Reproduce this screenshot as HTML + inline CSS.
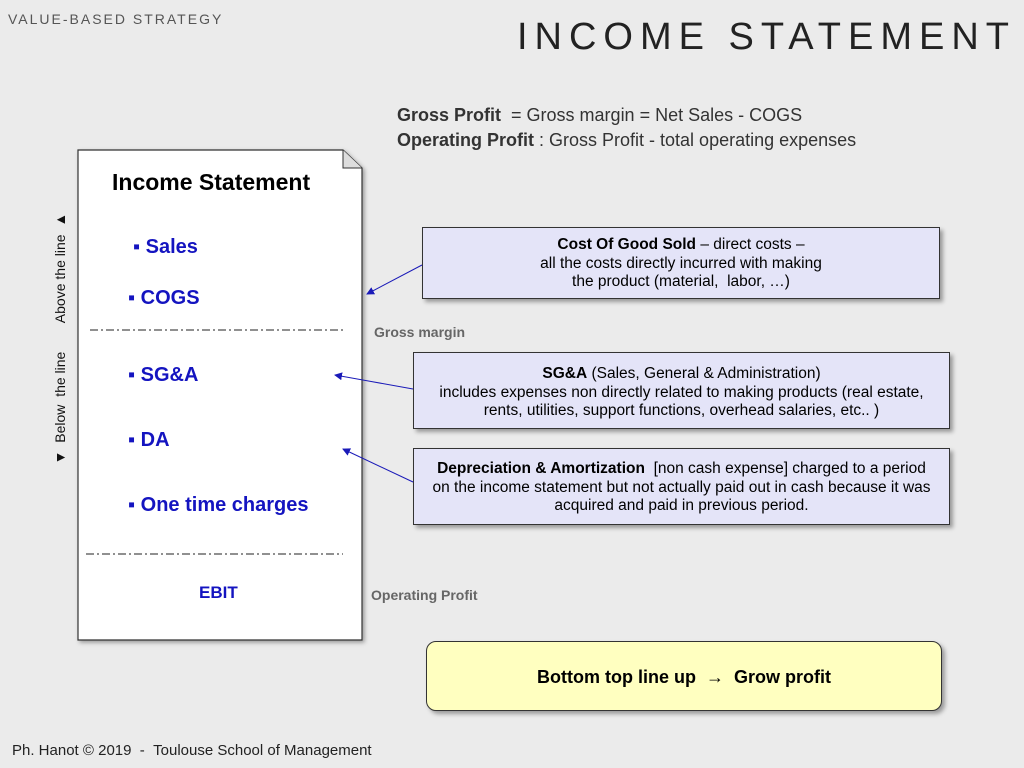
<!DOCTYPE html>
<html><head><meta charset="utf-8"><style>
body{margin:0;width:1024px;height:768px;background:#ebebeb;font-family:"Liberation Sans",sans-serif;position:relative;overflow:hidden}
.a{position:absolute;white-space:nowrap}
.box{position:absolute;background:#e4e4f8;border:1px solid #333;box-shadow:3px 3px 4px rgba(0,0,0,.35);font-size:15.5px;text-align:center;line-height:18.5px;color:#000;box-sizing:border-box;padding-top:8px}
.item{position:absolute;color:#1414c0;font-weight:bold;font-size:20px;white-space:nowrap}
</style></head><body>
<div class="a" style="left:8px;top:11px;font-size:14px;letter-spacing:2px;color:#555">VALUE-BASED STRATEGY</div>
<div class="a" style="right:8px;top:16px;font-size:38px;letter-spacing:7px;color:#222">INCOME STATEMENT</div>
<div class="a" style="left:397px;top:103px;font-size:18px;color:#333;line-height:25px"><b>Gross Profit</b> &nbsp;= Gross margin = Net Sales - COGS<br><b>Operating Profit</b> : Gross Profit - total operating expenses</div>

<svg class="a" style="left:70px;top:145px" width="310" height="505">
<defs><filter id="s"><feDropShadow dx="2" dy="2" stdDeviation="2" flood-opacity="0.35"/></filter></defs>
<path d="M8 5 H273 L292 23 V495 H8 Z" fill="#fff" stroke="#333" stroke-width="1.2" filter="url(#s)"/>
<path d="M273 5 V23 H292" fill="#ddd" stroke="#333" stroke-width="1"/>
<line x1="20" y1="185" x2="276" y2="185" stroke="#222" stroke-dasharray="8,3,2,3"/>
<line x1="16" y1="409" x2="273" y2="409" stroke="#222" stroke-dasharray="8,3,2,3"/>
</svg>
<div class="a" style="left:112px;top:169px;font-size:23px;font-weight:bold;color:#000">Income Statement</div>
<div class="item" style="left:133px;top:236px">▪ Sales</div>
<div class="item" style="left:128px;top:287px">▪ COGS</div>
<div class="item" style="left:128px;top:364px">▪ SG&amp;A</div>
<div class="item" style="left:128px;top:429px">▪ DA</div>
<div class="item" style="left:128px;top:494px">▪ One time charges</div>
<div class="item" style="left:199px;top:583px;font-size:17px">EBIT</div>
<div class="a" style="left:60px;top:268px;transform:translate(-50%,-50%) rotate(-90deg);font-size:14px;color:#111">Above the line &nbsp;▲</div>
<div class="a" style="left:60px;top:408px;transform:translate(-50%,-50%) rotate(-90deg);font-size:14px;color:#111">▼ &nbsp;Below &nbsp;the line</div>
<div class="a" style="left:374px;top:324px;font-size:14px;font-weight:bold;color:#666">Gross margin</div>
<div class="a" style="left:371px;top:587px;font-size:14px;font-weight:bold;color:#666">Operating Profit</div>

<div class="box" style="left:422px;top:227px;width:518px;height:72px"><b>Cost Of Good Sold</b> – direct costs –<br>all the costs directly incurred with making<br>the product (material, &nbsp;labor, …)</div>
<div class="box" style="left:413px;top:352px;width:537px;height:77px;padding-top:12px"><b>SG&amp;A</b> (Sales, General &amp; Administration)<br>includes expenses non directly related to making products (real estate,<br>rents, utilities, support functions, overhead salaries, etc.. )</div>
<div class="box" style="left:413px;top:448px;width:537px;height:77px;padding-top:11px"><b>Depreciation &amp; Amortization</b> &nbsp;[non cash expense] charged to a period<br>on the income statement but not actually paid out in cash because it was<br>acquired and paid in previous period.</div>

<svg class="a" style="left:0;top:0" width="1024" height="768">
<defs><marker id="ar" markerWidth="8" markerHeight="8" refX="7" refY="4" orient="auto"><path d="M0 0 L8 4 L0 8 Z" fill="#1a1ab8"/></marker></defs>
<line x1="422" y1="265" x2="367" y2="294" stroke="#1a1ab8" stroke-width="1" marker-end="url(#ar)"/>
<line x1="413" y1="389" x2="335" y2="375" stroke="#1a1ab8" stroke-width="1" marker-end="url(#ar)"/>
<line x1="413" y1="482" x2="343" y2="449" stroke="#1a1ab8" stroke-width="1" marker-end="url(#ar)"/>
</svg>

<div class="a" style="left:426px;top:641px;width:516px;height:70px;box-sizing:border-box;background:#ffffc0;border:1px solid #333;border-radius:10px;box-shadow:3px 3px 4px rgba(0,0,0,.35);text-align:center;line-height:70px;font-size:18px;font-weight:bold">Bottom top line up &nbsp;→ &nbsp;Grow profit</div>
<div class="a" style="left:12px;top:742px;font-size:15px;color:#222">Ph. Hanot © 2019 &nbsp;- &nbsp;Toulouse School of Management</div>
</body></html>
